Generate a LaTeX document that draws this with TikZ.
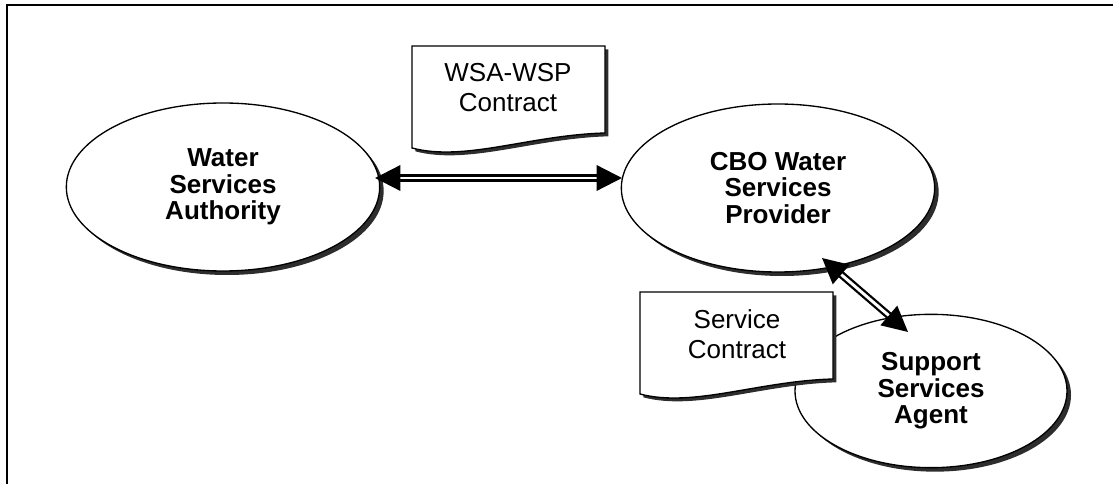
\documentclass[tikz,border=0pt]{standalone}
\usepackage{fontspec}
\setmainfont{Liberation Sans}
\usepackage{tikz}
\usetikzlibrary{shapes.geometric, shadows, arrows.meta, calc}
\definecolor{shade}{RGB}{45, 45, 45}
\newcommand*{\pagew}{193}
\newcommand*{\contractpage}[2]{%
  \filldraw[paper] (#1, #2) -- (#1 + \pagew, #2) -- (#1 + \pagew, #2 + 87)
    .. controls (#1 + 118, #2 + 89) and (#1 + 53, #2 + 116) .. (#1, #2 + 102) -- cycle;
}

\begin{document}
\begin{tikzpicture}[x=0.75pt, y=-0.75pt, line width=1pt,
  party/.style={ellipse, draw, fill=white, inner sep=0pt, align=center,
    font=\bfseries\fontsize{19.5}{20}\selectfont,
    drop shadow={shadow xshift=3pt, shadow yshift=-3pt, fill=shade, opacity=1}},
  paper/.style={draw, fill=white,
    drop shadow={shadow xshift=2.5pt, shadow yshift=-2.5pt, fill=shade, opacity=1}},
  pagetext/.style={align=center, font=\fontsize{19.5}{22.5}\selectfont},
  twoway/.style={double, double distance=2.2pt, line width=1.7pt,
    {Triangle[length=19pt, width=19pt]}-{Triangle[length=19pt, width=19pt]}}]
  \useasboundingbox (0, 0) rectangle (1113, 484);

  % frame (cut at right and bottom)
  \draw[line width=1.5pt] (1113, 5) -- (7, 5) -- (7, 484);

  \contractpage{412}{46}
  \node[pagetext] (wspdoc) at (508, 88) {WSA-WSP\\Contract};

  \node[party, minimum width=235pt, minimum height=126pt] (wsa) at (223, 187)
    {Water\\Services\\Authority};
  \node[party, minimum width=235pt, minimum height=126pt] (cbo) at (778, 188)
    {CBO Water\\Services\\Provider};
  \node[party, minimum width=204pt, minimum height=115pt] (ssa) at (931, 391)
    {Support\\Services\\Agent};

  \contractpage{640}{292}
  \node[pagetext] (svcdoc) at (737, 334) {Service\\Contract};

  \draw[twoway] ($(wsa) + (152, -9)$) -- ($(cbo) + (-156, -10)$);
  \draw[twoway] ($(cbo) + (44, 70)$) -- ($(ssa) + (-23, -59)$);
\end{tikzpicture}
\end{document}
